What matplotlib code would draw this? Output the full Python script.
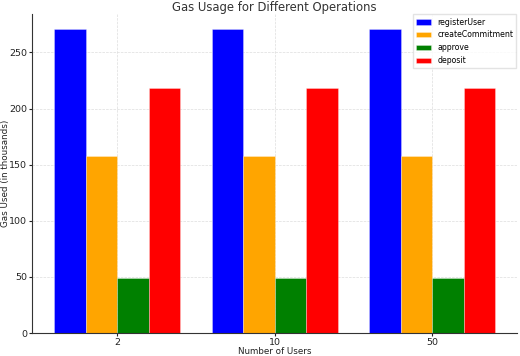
import matplotlib.pyplot as plt
import numpy as np

users = ['2', '10', '50']
operations = ['registerUser', 'createCommitment', 'approve', 'deposit']
colors = ['blue', 'orange', 'green', 'red']
# gas used in thousands, per operation, per user count
register_user = [271, 271, 271]
create_commitment = [158, 158, 158]
approve = [49, 49, 49]
deposit = [218, 218, 218]
series = [register_user, create_commitment, approve, deposit]

fig = plt.figure(figsize=(5.2, 3.56), dpi=100)
ax = fig.add_axes([0.0615, 0.0646, 0.933, 0.897])

x = np.arange(len(users))
w = 0.2
for i, (vals, op, c) in enumerate(zip(series, operations, colors)):
    ax.bar(x + (i - 1.5) * w, vals, w, label=op, color=c,
           edgecolor=(1, 1, 1, 0.35), linewidth=0.6)

ax.set_xticks(x)
ax.set_xticklabels(users)
ax.set_yticks(np.arange(0, 251, 50))
ax.grid(True, linestyle='--', linewidth=0.5, color='#dddddd')
ax.set_axisbelow(True)
for s in ['top', 'right']:
    ax.spines[s].set_visible(False)
for s in ['left', 'bottom']:
    ax.spines[s].set_color('#333333')
ax.tick_params(labelsize=6.8, colors='#222222', length=2, pad=1.5)

ax.set_title('Gas Usage for Different Operations', fontsize=8.4, color='#333333', pad=2)
ax.set_xlabel('Number of Users', fontsize=6.3, color='#222222')
ax.set_ylabel('Gas Used (in thousands)', fontsize=6.3, color='#222222')
ax.xaxis.set_label_coords(0.5, -0.045)
ax.yaxis.set_label_coords(-0.046, 0.5)
ax.legend(loc='upper right', fontsize=5.6, frameon=True, edgecolor='#dddddd',
          fancybox=False, borderaxespad=0.1, handlelength=1.9)

plt.savefig('out.png', dpi=100)
